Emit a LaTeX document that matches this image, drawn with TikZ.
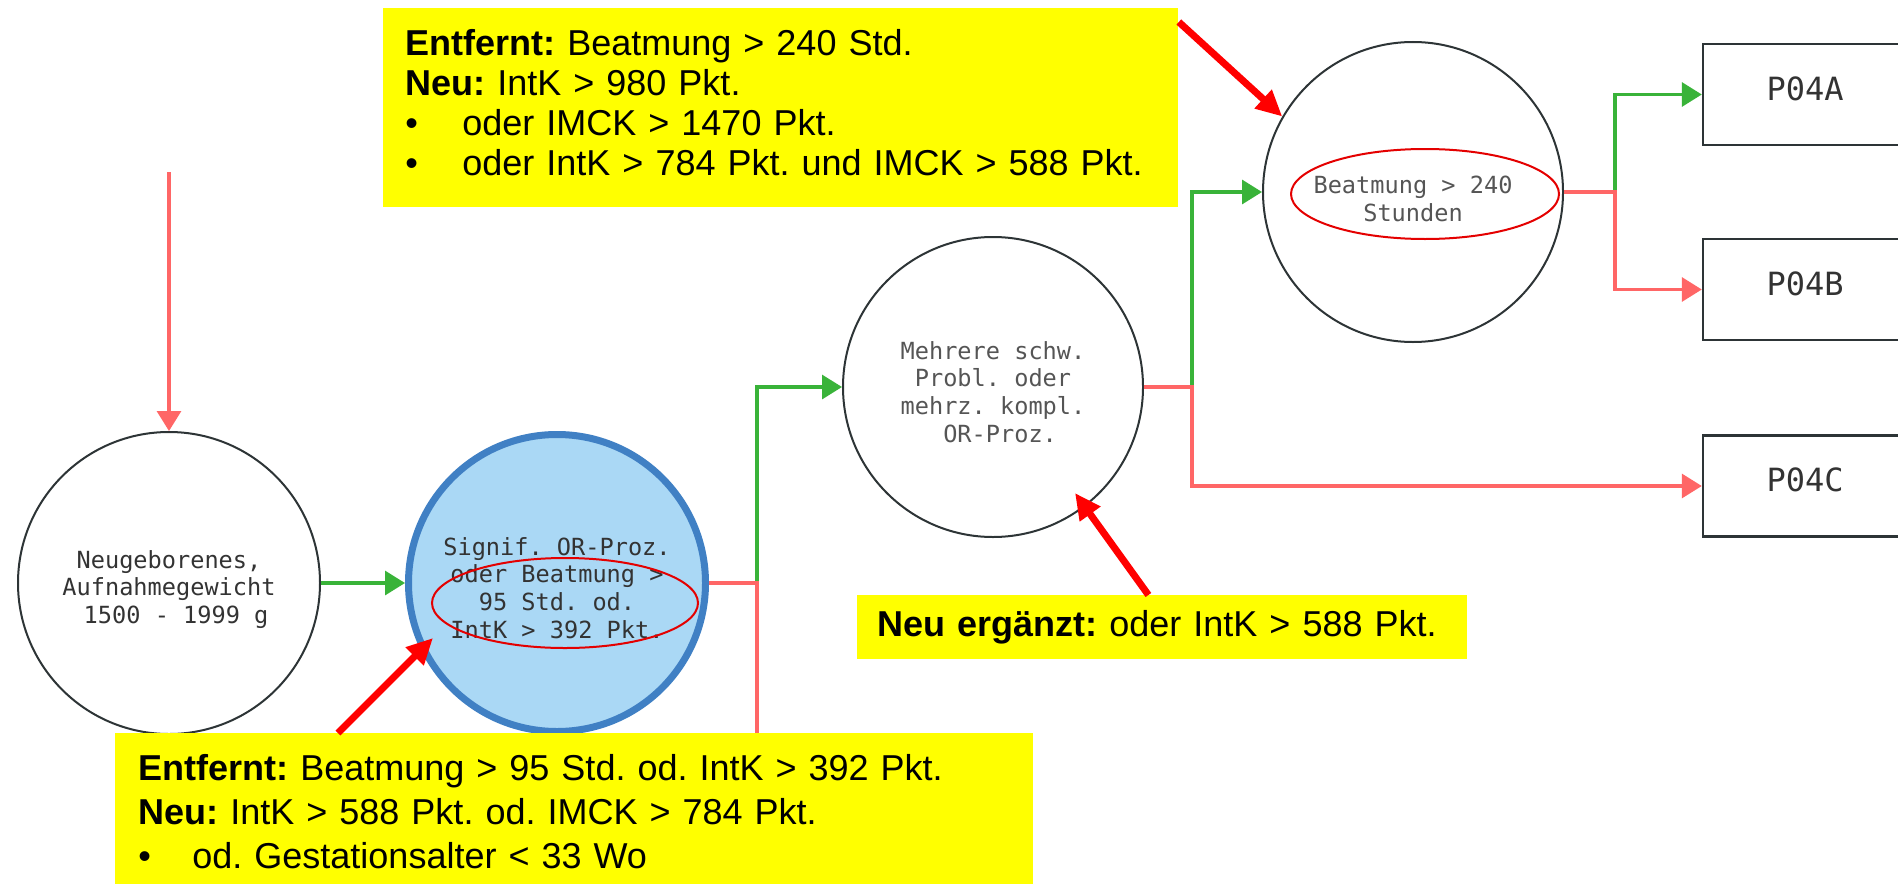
\documentclass[tikz,border=0pt]{standalone}
\usepackage{fontspec}
\setmainfont{Liberation Sans}
\newfontfamily\codefont{DejaVu Sans Mono}
\usepackage{xcolor}
\usepackage{tikz}
\usetikzlibrary{positioning,calc,arrows.meta}
\frenchspacing

\definecolor{jagreen}{RGB}{57,179,57}
\definecolor{neinred}{RGB}{255,102,102}
\definecolor{edge}{RGB}{45,52,54}
\definecolor{ink}{RGB}{51,51,51}
\definecolor{inkgray}{RGB}{85,85,85}
\definecolor{sky}{RGB}{170,216,245}
\definecolor{skyline}{RGB}{64,128,196}
\definecolor{marker}{RGB}{255,255,0}
\definecolor{alarm}{RGB}{255,0,0}
\definecolor{ringred}{RGB}{228,0,0}

\newcommand{\drop}[1]{\rule{0pt}{#1}}

\begin{document}
\begin{tikzpicture}[x=0.5pt, y=-0.5pt,
        knot/.style={circle, draw=edge, line width=1pt, inner sep=0pt, align=center, text=ink, font=\codefont\fontsize{11.8}{13.9}\selectfont},
        pbox/.style={rectangle, draw=edge, line width=1.2pt, minimum width=102pt, minimum height=50.5pt, text=ink, font=\codefont\fontsize{16}{18}\selectfont, text height=11.7pt, text depth=6pt},
        ja/.style={draw=jagreen, line width=1.6pt},
        nein/.style={draw=neinred, line width=1.6pt},
        tip/.style={-{Triangle[length=10pt,width=12pt]}},
        note/.style={fill=marker, anchor=north west, align=left, inner xsep=11pt, inner ysep=0pt, font=\fontsize{18}{20}\selectfont},
        hint/.style={draw=alarm, line width=3.5pt, -{Triangle[length=13pt,width=12pt]}},
        ring/.style={draw=ringred, line width=1pt}]

        \useasboundingbox (0,0) rectangle (1898,883);

        \node[knot, minimum size=151pt] (neugeb) at (169,583) {\drop{15.5pt}Neugeborenes,\\Aufnahmegewicht\\~1500 - 1999 g};
        \node[knot, minimum size=148.5pt, fill=sky, draw=skyline, line width=3.5pt] (signif) at (557,583) {\drop{14pt}Signif. OR-Proz.\\oder Beatmung >\\95 Std. od.\\IntK > 392 Pkt.};
        \node[knot, minimum size=150pt, text=inkgray] (mehrere) at (993,387) {\drop{14pt}Mehrere schw.\\Probl. oder\\mehrz. kompl.\\~OR-Proz.};
        \node[knot, minimum size=150pt, text=inkgray] (beatm) at (1413,192) {\drop{16pt}Beatmung > 240\\Stunden};
        \foreach \n/\y in {A/94.5, B/289.5, C/486} {
            \node[pbox] (p\n) at (1805,\y) {P04\n};
        }

        \draw[ring] ([shift={(8,20)}]signif.center) ellipse [x radius=133, y radius=45];
        \draw[ring] ([shift={(12,2)}]beatm.center) ellipse [x radius=134, y radius=45];

        \coordinate (start) at (169,172);
        \coordinate (weiter) at (757,890);
        \draw[nein, tip] (start) -- (neugeb);
        \draw[ja, tip] (neugeb) -- (signif);
        \draw[ja, tip] (signif.east) -- ++(48,0) |- (mehrere.west);
        \draw[nein] (signif.east) -| (weiter);
        \draw[ja, tip] (mehrere.east) -- ++(48,0) |- (beatm.west);
        \draw[nein, tip] (mehrere.east) -- ++(48,0) |- (pC.west);
        \draw[ja, tip] (beatm.east) -- ++(51,0) |- (pA.west);
        \draw[nein, tip] (beatm.east) -- ++(51,0) |- (pB.west);

        \node[note, text width=375.5pt, minimum height=99.5pt] (oben) at (383,8) {%
            \textbf{Entfernt:} Beatmung > 240 Std.\\
            \textbf{Neu:} IntK > 980 Pkt.\\
            \makebox[28.5pt][l]{\textbullet}oder IMCK > 1470 Pkt.\\
            \makebox[28.5pt][l]{\textbullet}oder IntK > 784 Pkt. und IMCK > 588 Pkt.\rule[-5pt]{0pt}{1pt}};
        \node[note, text width=436pt, minimum height=78.5pt, inner xsep=11.5pt, font=\fontsize{18}{22}\selectfont] (unten) at (115,733) {%
            \textbf{Entfernt:} Beatmung > 95 Std. od. IntK > 392 Pkt.\\
            \textbf{Neu:} IntK > 588 Pkt. od. IMCK > 784 Pkt.\\
            \makebox[27pt][l]{\textbullet}od. Gestationsalter < 33 Wo};
        \node[note, text width=285pt, minimum height=32pt, inner xsep=10pt] (neu) at (857,595) {%
            \textbf{Neu ergänzt:} oder IntK > 588 Pkt.};

        \draw[hint] ([yshift=-7pt]oben.north east) -- (beatm.150);
        \draw[hint] ([xshift=-7pt]neu.north) -- ([shift={(82,106)}]mehrere.center);
        \draw[hint] ([xshift=111.5pt]unten.north west) -- ([shift={(-124,55)}]signif.center);
    \end{tikzpicture}
\end{document}
